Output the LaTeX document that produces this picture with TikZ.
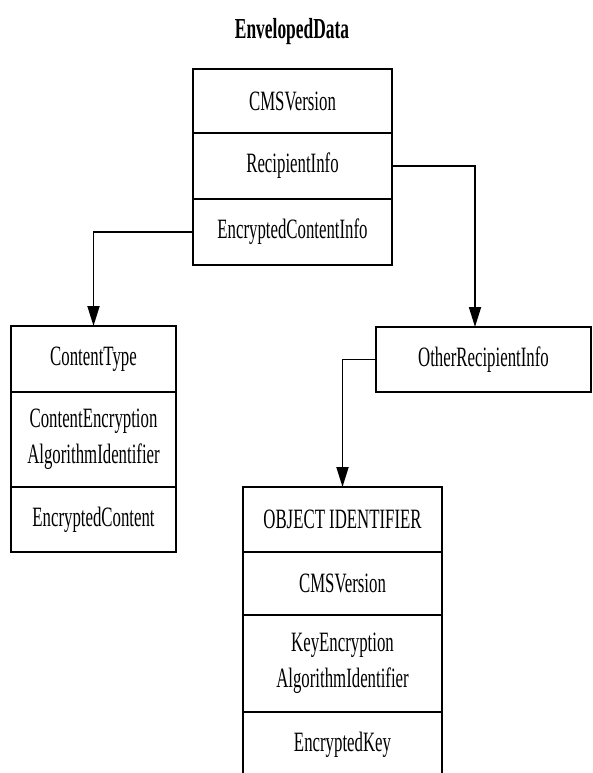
\documentclass[tikz,border=0pt]{standalone}
\usepackage{fontspec}
\setmainfont[FakeStretch=0.6]{Liberation Serif}
\usetikzlibrary{positioning}
\usetikzlibrary{arrows.meta}

\tikzset{
  cell/.style={draw, line width=2.2pt, outer sep=0pt, inner sep=0pt,
    align=center, font=\fontsize{28}{36}\selectfont},
  wide/.style={cell, minimum width=199pt},
  narrow/.style={cell, minimum width=165pt},
  link/.style={line width=1.8pt, -{Triangle[length=20pt,width=12pt]}}
}

\begin{document}
\begin{tikzpicture}[x=1pt, y=-1pt]
        \useasboundingbox (0, 0) rectangle (592, 773);

        \node[font=\fontsize{29}{34}\selectfont\bfseries] (title) at (292, 32) {EnvelopedData};

        % EnvelopedData
        \node[wide, minimum height=64pt] (cmsver) at (292.5, 101) {CMSVersion};
        \node[wide, minimum height=66pt, below=0pt of cmsver] (rinfo) {RecipientInfo};
        \node[wide, minimum height=66pt, below=0pt of rinfo] (eci) {EncryptedContentInfo};

        % EncryptedContentInfo
        \node[narrow, minimum height=66pt] (ctype) at (93.5, 359) {ContentType};
        \node[narrow, minimum height=95pt, below=0pt of ctype] (cea) {ContentEncryption\\AlgorithmIdentifier};
        \node[narrow, minimum height=65pt, below=0pt of cea] (econt) {EncryptedContent};

        % RecipientInfo
        \node[cell, minimum width=215pt, minimum height=65pt] (other) at (483.5, 359.5) {OtherRecipientInfo};

        % OtherRecipientInfo
        \node[wide, minimum height=65pt] (oid) at (342.5, 519.5) {OBJECT IDENTIFIER};
        \node[wide, minimum height=63pt, below=0pt of oid] (cmsvertwo) {CMSVersion};
        \node[wide, minimum height=97pt, below=0pt of cmsvertwo] (kea) {KeyEncryption\\AlgorithmIdentifier};
        \node[wide, minimum height=65pt, below=0pt of kea] (ekey) {EncryptedKey};

        \draw[link] (rinfo.east) -| ([xshift=-8.5pt]other.north);
        \draw[link] (eci.west) -| (ctype.north);
        \draw[link] (other.west) -| (oid.north);
\end{tikzpicture}
\end{document}
